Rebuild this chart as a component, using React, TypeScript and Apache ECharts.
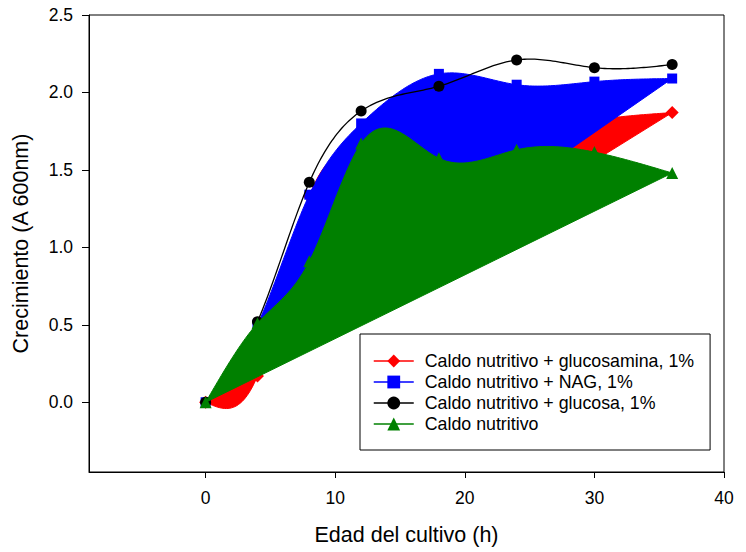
import React, { useEffect, useRef } from "react";
import * as echarts from "echarts";

const hours = [0, 4, 8, 12, 18, 24, 30, 36];
const glucosamina = [0, 0.17, 1.33, 1.62, 1.66, 1.72, 1.82, 1.87];
const nag = [0, 0.5, 1.34, 1.8, 2.12, 2.05, 2.07, 2.09];
const glucosa = [0, 0.52, 1.42, 1.88, 2.04, 2.21, 2.16, 2.18];
const caldo = [0, 0.51, 0.91, 1.67, 1.575, 1.63, 1.615, 1.48];

const names = [
  "Caldo nutritivo + glucosamina, 1%",
  "Caldo nutritivo + NAG, 1%",
  "Caldo nutritivo + glucosa, 1%",
  "Caldo nutritivo",
];
const xTicks = [0, 10, 20, 30, 40];
const yTicks = [0, 0.5, 1, 1.5, 2, 2.5];

const FONT = "'Liberation Sans', Arial, sans-serif";

// natural cubic spline through the points, sampled for drawing
function splinePoints(xs: number[], ys: number[], per = 30): number[][] {
  const n = xs.length;
  const h: number[] = [];
  for (let i = 0; i < n - 1; i++) h.push(xs[i + 1] - xs[i]);
  const M = new Array(n).fill(0);
  const m = n - 2;
  if (m > 0) {
    const a: number[] = [], b: number[] = [], c: number[] = [], d: number[] = [];
    for (let i = 1; i <= m; i++) {
      a.push(h[i - 1]);
      b.push(2 * (h[i - 1] + h[i]));
      c.push(h[i]);
      d.push(6 * ((ys[i + 1] - ys[i]) / h[i] - (ys[i] - ys[i - 1]) / h[i - 1]));
    }
    for (let i = 1; i < m; i++) {
      const w = a[i] / b[i - 1];
      b[i] -= w * c[i - 1];
      d[i] -= w * d[i - 1];
    }
    const sol = new Array(m).fill(0);
    sol[m - 1] = d[m - 1] / b[m - 1];
    for (let i = m - 2; i >= 0; i--) sol[i] = (d[i] - c[i] * sol[i + 1]) / b[i];
    for (let i = 0; i < m; i++) M[i + 1] = sol[i];
  }
  const out: number[][] = [];
  for (let i = 0; i < n - 1; i++) {
    const hi = h[i];
    for (let k = 0; k < per; k++) {
      const x = xs[i] + (hi * k) / per;
      const A = xs[i + 1] - x;
      const B = x - xs[i];
      const y =
        (M[i] * A * A * A) / (6 * hi) +
        (M[i + 1] * B * B * B) / (6 * hi) +
        (ys[i] / hi - (M[i] * hi) / 6) * A +
        (ys[i + 1] / hi - (M[i + 1] * hi) / 6) * B;
      out.push([x, y]);
    }
  }
  out.push([xs[n - 1], ys[n - 1]]);
  return out;
}

function fillSeries(vals: number[], color: string, z: number) {
  return {
    type: "custom",
    name: "fill-" + color,
    z,
    silent: true,
    clip: true,
    data: [[hours[0], vals[0]]],
    renderItem: (_p: any, api: any) => {
      const pts = splinePoints(hours, vals).map((p) => api.coord(p));
      return {
        type: "polygon",
        shape: { points: pts },
        style: { fill: color, stroke: color, lineWidth: 1 },
      };
    },
  };
}

function curveSeries(vals: number[], color: string, z: number) {
  return {
    type: "custom",
    name: "curve-" + color,
    z,
    silent: true,
    clip: true,
    data: [[hours[0], vals[0]]],
    renderItem: (_p: any, api: any) => {
      const pts = splinePoints(hours, vals).map((p) => api.coord(p));
      return {
        type: "polyline",
        shape: { points: pts },
        style: { fill: null, stroke: color, lineWidth: 1.3 },
      };
    },
  };
}

function markerSeries(name: string, vals: number[], color: string, symbol: string, size: number, z: number) {
  return {
    type: "line",
    name,
    z,
    data: hours.map((h, i) => [h, vals[i]]),
    symbol,
    symbolSize: size,
    showSymbol: true,
    lineStyle: { width: 0, color },
    itemStyle: { color, borderWidth: 0 },
  };
}

export default function App() {
  const ref = useRef<HTMLDivElement>(null);
  useEffect(() => {
    if (!ref.current) return;
    const chart = echarts.init(ref.current, null, { renderer: "svg" });
    const axisText = { color: "#000", fontFamily: FONT, fontSize: 17.5 };
    chart.setOption({
      animation: false,
      backgroundColor: "#fff",
      grid: {
        left: 89,
        right: 22,
        top: 15,
        bottom: 80,
        show: true,
        borderColor: "#000",
        borderWidth: 1,
      },
      xAxis: {
        type: "value",
        min: -9,
        max: 40,
        name: "Edad del cultivo (h)",
        nameLocation: "middle",
        nameGap: 52,
        nameTextStyle: { color: "#000", fontFamily: FONT, fontSize: 21.5 },
        axisLine: { show: true, onZero: false, lineStyle: { color: "#000", width: 1 } },
        axisTick: { show: true, length: 6, customValues: xTicks, lineStyle: { color: "#000" } },
        axisLabel: { ...axisText, margin: 17, customValues: xTicks },
        splitLine: { show: false },
      },
      yAxis: {
        type: "value",
        min: -0.45,
        max: 2.5,
        name: "Crecimiento (A 600nm)",
        nameLocation: "middle",
        nameRotate: 90,
        nameGap: 57,
        nameTextStyle: { color: "#000", fontFamily: FONT, fontSize: 21.5 },
        axisLine: { show: true, onZero: false, lineStyle: { color: "#000", width: 1 } },
        axisTick: { show: true, length: 7, customValues: yTicks, lineStyle: { color: "#000" } },
        axisLabel: {
          ...axisText,
          margin: 16,
          customValues: yTicks,
          formatter: (v: number) => v.toFixed(1),
        },
        splitLine: { show: false },
      },
      legend: {
        data: names,
        orient: "vertical",
        left: 360,
        top: 334,
        padding: [18, 16, 17, 13],
        itemGap: 3,
        itemWidth: 40,
        itemHeight: 16,
        borderColor: "#000",
        borderWidth: 1,
        backgroundColor: "#fff",
        lineStyle: { width: 1.5 },
        textStyle: { color: "#000", fontFamily: FONT, fontSize: 17.8, padding: [0, 0, 0, 6] },
      },
      series: [
        fillSeries(glucosamina, "#ff0000", 1),
        markerSeries(names[0], glucosamina, "#ff0000", "diamond", 13, 2),
        fillSeries(nag, "#0000ff", 3),
        markerSeries(names[1], nag, "#0000ff", "rect", 10, 4),
        curveSeries(glucosa, "#000000", 5),
        markerSeries(names[2], glucosa, "#000000", "circle", 11, 6),
        fillSeries(caldo, "#008000", 7),
        markerSeries(names[3], caldo, "#008000", "triangle", 12, 8),
      ],
    });
    return () => chart.dispose();
  }, []);
  return <div ref={ref} style={{ width: 746, height: 552, position: "absolute", left: 0, top: 0 }} />;
}
